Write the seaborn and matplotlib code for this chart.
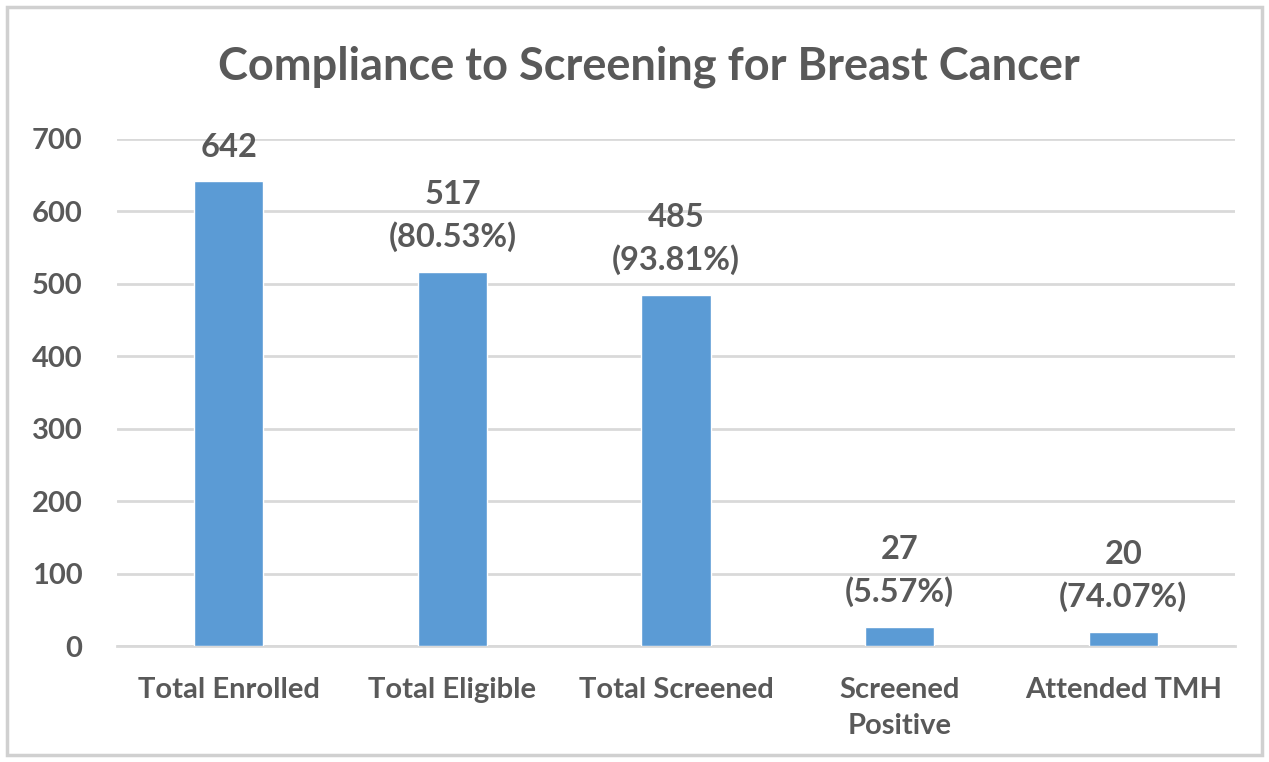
import matplotlib
matplotlib.use("Agg")
import matplotlib.pyplot as plt
import seaborn as sns
import pandas as pd
from matplotlib.patches import Rectangle

categories = ["Total Enrolled", "Total Eligible", "Total Screened", "Screened\nPositive", "Attended TMH"]
values = [642, 517, 485, 27, 20]
percent_labels = ["", "(80.53%)", "(93.81%)", "(5.57%)", "(74.07%)"]
yticks = [0, 100, 200, 300, 400, 500, 600, 700]
title = "Compliance to Screening for Breast Cancer"

sns.set_theme(style="white")
plt.rcParams['font.family'] = ['Lato', 'DejaVu Sans']

text_color = "#595959"
bar_color = "#5B9BD5"
grid_color = "#D9D9D9"

df = pd.DataFrame({"category": categories, "value": values})

fig = plt.figure(figsize=(12.69, 7.62), dpi=100)
fig.patch.set_facecolor("white")
fig.patches.append(Rectangle((0.0055, 0.009), 0.989, 0.982, transform=fig.transFigure,
                             fill=False, edgecolor="#D0D0D0", linewidth=2.5))
ax = fig.add_axes([0.0922, 0.152, 0.881, 0.6656])

sns.barplot(data=df, x="category", y="value", color=bar_color, width=0.31,
            saturation=1, ax=ax, zorder=3)

ax.set_ylim(0, 700)
ax.set_xlim(-0.5, len(categories) - 0.5)
ax.set_yticks(yticks)
ax.set_yticklabels([str(t) for t in yticks])
ax.yaxis.grid(True, color=grid_color, linewidth=2, zorder=0)
ax.set_axisbelow(True)
for s in ax.spines.values():
    s.set_visible(False)
ax.spines["bottom"].set_visible(True)
ax.spines["bottom"].set_color(grid_color)
ax.spines["bottom"].set_linewidth(2)
ax.tick_params(axis="y", length=0, pad=25, labelsize=21, labelcolor=text_color)
ax.tick_params(axis="x", length=0, pad=22, labelsize=21, labelcolor=text_color)
for lab in ax.get_yticklabels() + ax.get_xticklabels():
    lab.set_fontweight("bold")
    lab.set_linespacing(1.5)
ax.set_xlabel("")
ax.set_ylabel("")

for i, (v, p) in enumerate(zip(values, percent_labels)):
    txt = f"{v}" if not p else f"{v}\n{p}"
    ax.annotate(txt, (i, v), xytext=(0, 14), textcoords="offset points",
                ha="center", va="bottom", fontsize=23.5, fontweight="bold",
                color=text_color, linespacing=1.5)

fig.text(0.511, 0.912, title, ha="center", va="center", fontsize=32.5,
         fontweight="bold", color=text_color)

fig.savefig("out.png", dpi=100, facecolor="white")
